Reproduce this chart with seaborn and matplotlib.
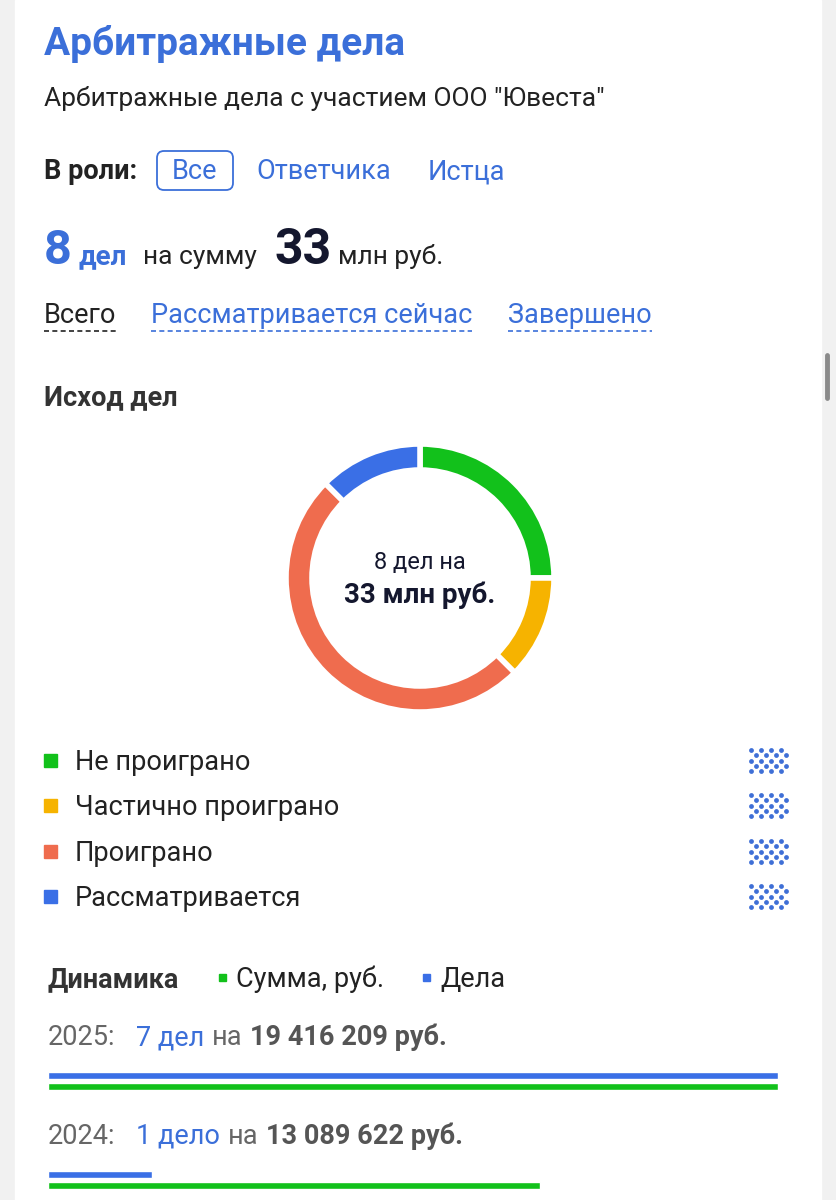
import numpy as np
import pandas as pd
import seaborn as sns
import matplotlib.pyplot as plt
from matplotlib.patches import FancyBboxPatch, Rectangle

# --- data ---
outcome_labels = ['Не проиграно', 'Частично проиграно', 'Проиграно', 'Рассматривается']
outcome_counts = [2, 1, 4, 1]
outcome_colors = ['#12C11B', '#F6B300', '#EF6C4E', '#3A6FE6']

years = ['2025', '2024']
year_cases = [7, 1]
year_case_words = ['дел', 'дело']
year_sums = [19416209, 13089622]

total_cases = 8
total_mln = 33

role_tabs = ['Все', 'Ответчика', 'Истца']
status_tabs = ['Всего', 'Рассматривается сейчас', 'Завершено']

BLUE = '#3B6FD9'
DARK = '#222222'
NAVY = '#14172E'
GRAY = '#666666'
GREEN = '#12C11B'
BARBLUE = '#3A6FE6'
FS = 19.5  # base text size

sns.set_theme(style='white')
plt.rcParams['font.family'] = ['Roboto', 'DejaVu Sans']

fig = plt.figure(figsize=(8.36, 12), dpi=100)
fig.patch.set_facecolor('#f1f1f1')
ax = fig.add_axes([0, 0, 1, 1])
ax.set_xlim(0, 836)
ax.set_ylim(1200, 0)
ax.axis('off')
ax.add_patch(Rectangle((15, 0), 806, 1200, color='white', zorder=0))
ax.plot([827, 827], [355, 398], color='#8a8a8a', lw=3.5, solid_capstyle='round')

renderer = fig.canvas.get_renderer()


def inline(x, y, parts):
    # parts: (text, gap after, text kwargs); x in px equals display px here
    for txt, gap, kw in parts:
        t = ax.text(x, y, txt, va='baseline', ha='left', **kw)
        bb = t.get_window_extent(renderer)
        x = bb.x1 + gap
    return x


# header
ax.text(44, 55, 'Арбитражные дела', fontsize=28, weight='bold', color=BLUE, va='baseline')
ax.text(44, 106, 'Арбитражные дела с участием ООО "Ювеста"', fontsize=19, color=DARK, va='baseline')

# roles
ax.text(44, 179, 'В роли:', fontsize=FS, weight='bold', color=DARK, va='baseline')
ax.add_patch(FancyBboxPatch((157, 151), 76, 39, boxstyle='round,pad=0,rounding_size=7',
                            fc='none', ec=BLUE, lw=1.3))
ax.text(195, 179, role_tabs[0], fontsize=FS, color=BLUE, va='baseline', ha='center')
ax.text(256, 179, role_tabs[1], fontsize=FS, color=BLUE, va='baseline')
ax.text(428, 179, role_tabs[2], fontsize=FS, color=BLUE, va='baseline')

# totals line
inline(44, 264, [
    (str(total_cases), 7, dict(fontsize=35, weight='bold', color=BLUE)),
    ('дел', 16, dict(fontsize=20, weight='bold', color=BLUE)),
    ('на сумму', 17, dict(fontsize=19, color=DARK)),
    (str(total_mln), 7, dict(fontsize=36, weight='bold', color=NAVY)),
    ('млн руб.', 0, dict(fontsize=19, color=DARK)),
])

# status tabs with dashed underline
sx = [44, 151, 508]
scol = [DARK, BLUE, BLUE]
for x0, lab, c in zip(sx, status_tabs, scol):
    t = ax.text(x0, 323, lab, fontsize=FS, color=c, va='baseline')
    bb = t.get_window_extent(renderer)
    ax.plot([x0, bb.x1], [331, 331], color=c, lw=1.2, dashes=(3, 2))

ax.text(44, 405, 'Исход дел', fontsize=FS, weight='bold', color='#333333', va='baseline')

# donut
cx, cy, R = 420, 578, 134
dax = fig.add_axes([(cx - 150) / 836, 1 - (cy + 150) / 1200, 300 / 836, 300 / 1200])
dax.pie(outcome_counts, colors=outcome_colors, startangle=90, counterclock=False, radius=1,
        wedgeprops=dict(width=26 / R, edgecolor='white', linewidth=4))
dax.set_xlim(-150 / R, 150 / R)
dax.set_ylim(-150 / R, 150 / R)
dax.set_aspect('equal')
dax.axis('off')
ax.text(cx, 569, f'{total_cases} дел на', fontsize=17, color=NAVY, ha='center', va='baseline')
ax.text(cx, 603, f'{total_mln} млн руб.', fontsize=20, weight='bold', color=NAVY, ha='center', va='baseline')

# legend of outcomes
row_y = [761, 806, 852, 897]
for yc, lab, col in zip(row_y, outcome_labels, outcome_colors):
    ax.add_patch(Rectangle((44, yc - 7), 13, 13, color=col))
    ax.text(75, yc + 9, lab, fontsize=FS, color=DARK, va='baseline')
    # hidden value placeholder dots
    dx, dy = [], []
    for r in range(5):
        off = 0 if r % 2 == 0 else 5
        for k in range(4):
            dx.append(750.5 + off + 10 * k)
            dy.append(yc - 11 + 5.3 * r)
    ax.scatter(dx, dy, s=12, color='#3F6FD6', linewidths=0)

# dynamics header
ax.text(48, 987, 'Динамика', fontsize=FS, weight='bold', color='#333333', va='baseline')
ax.add_patch(Rectangle((219, 974), 7, 7, color=GREEN))
ax.text(236, 987, 'Сумма, руб.', fontsize=FS, color=DARK, va='baseline')
ax.add_patch(Rectangle((423, 974), 7, 7, color=BARBLUE))
ax.text(440, 987, 'Дела', fontsize=FS, color=DARK, va='baseline')

# yearly rows
for yb, yr, n, w, s in zip([1045, 1144], years, year_cases, year_case_words, year_sums):
    inline(48, yb, [
        (f'{yr}:', 20, dict(fontsize=FS, color=GRAY)),
        (f'{n} {w}', 8, dict(fontsize=FS, color=BLUE)),
        ('на', 8, dict(fontsize=FS, color=GRAY)),
        (f'{s:,}'.replace(',', ' ') + ' руб.', 0, dict(fontsize=FS, weight='bold', color='#555555')),
    ])

# bars
df = pd.DataFrame({
    'year': years * 2,
    'series': ['Дела'] * len(years) + ['Сумма, руб.'] * len(years),
    'share': [c / max(year_cases) for c in year_cases] + [s / max(year_sums) for s in year_sums],
})
top_px, g0, step = 1040, 1081, 99
bax = fig.add_axes([48 / 836, 0, 730 / 836, (1200 - top_px) / 1200])
sns.barplot(data=df, x='share', y='year', hue='series', order=years,
            hue_order=['Дела', 'Сумма, руб.'], palette=[BARBLUE, GREEN],
            orient='h', width=0.222, gap=0.36, legend=False, ax=bax, saturation=1)
bax.set_xlim(0, 1)
bax.set_ylim((1200 - g0) / step, (top_px - g0) / step)
bax.axis('off')

fig.savefig('out.png', dpi=100)
